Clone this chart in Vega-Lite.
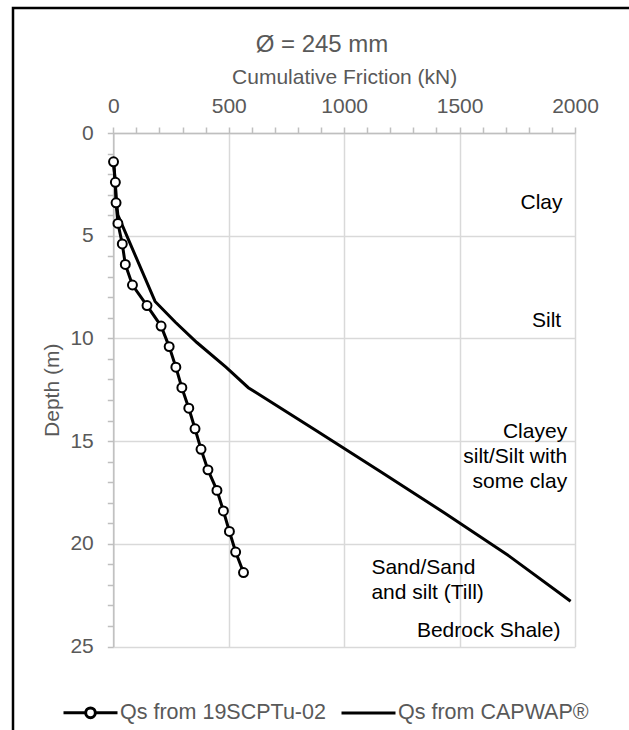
{
  "$schema": "https://vega.github.io/schema/vega-lite/v6.json",
  "width": 618,
  "height": 724,
  "autosize": {"type": "none"},
  "padding": {"left": 13, "top": 8, "right": -2, "bottom": -2},
  "background": "white",
  "config": {
    "font": "Liberation Sans",
    "view": {"stroke": "black", "strokeWidth": 2.5}
  },
  "title": {
    "text": "Ø = 245 mm",
    "font": "Liberation Sans",
    "fontSize": 24,
    "fontWeight": "normal",
    "color": "#595959",
    "anchor": "middle",
    "frame": "group",
    "offset": -49
  },
  "datasets": {
    "friction": [
      {"series": "Qs from 19SCPTu-02", "depth": 1.4, "qs": 1},
      {"series": "Qs from 19SCPTu-02", "depth": 2.4, "qs": 9},
      {"series": "Qs from 19SCPTu-02", "depth": 3.4, "qs": 12},
      {"series": "Qs from 19SCPTu-02", "depth": 4.4, "qs": 20},
      {"series": "Qs from 19SCPTu-02", "depth": 5.4, "qs": 39},
      {"series": "Qs from 19SCPTu-02", "depth": 6.4, "qs": 52},
      {"series": "Qs from 19SCPTu-02", "depth": 7.4, "qs": 83},
      {"series": "Qs from 19SCPTu-02", "depth": 8.4, "qs": 146},
      {"series": "Qs from 19SCPTu-02", "depth": 9.4, "qs": 207},
      {"series": "Qs from 19SCPTu-02", "depth": 10.4, "qs": 242},
      {"series": "Qs from 19SCPTu-02", "depth": 11.4, "qs": 271},
      {"series": "Qs from 19SCPTu-02", "depth": 12.4, "qs": 297},
      {"series": "Qs from 19SCPTu-02", "depth": 13.4, "qs": 327},
      {"series": "Qs from 19SCPTu-02", "depth": 14.4, "qs": 354},
      {"series": "Qs from 19SCPTu-02", "depth": 15.4, "qs": 380},
      {"series": "Qs from 19SCPTu-02", "depth": 16.4, "qs": 410},
      {"series": "Qs from 19SCPTu-02", "depth": 17.4, "qs": 449},
      {"series": "Qs from 19SCPTu-02", "depth": 18.4, "qs": 477},
      {"series": "Qs from 19SCPTu-02", "depth": 19.4, "qs": 503},
      {"series": "Qs from 19SCPTu-02", "depth": 20.4, "qs": 530},
      {"series": "Qs from 19SCPTu-02", "depth": 21.4, "qs": 564},
      {"series": "Qs from CAPWAP®", "depth": 1.4, "qs": 1},
      {"series": "Qs from CAPWAP®", "depth": 2.4, "qs": 8},
      {"series": "Qs from CAPWAP®", "depth": 3.4, "qs": 14},
      {"series": "Qs from CAPWAP®", "depth": 4.0, "qs": 20},
      {"series": "Qs from CAPWAP®", "depth": 8.2, "qs": 181},
      {"series": "Qs from CAPWAP®", "depth": 9.2, "qs": 268},
      {"series": "Qs from CAPWAP®", "depth": 10.2, "qs": 362},
      {"series": "Qs from CAPWAP®", "depth": 11.4, "qs": 488},
      {"series": "Qs from CAPWAP®", "depth": 12.4, "qs": 585},
      {"series": "Qs from CAPWAP®", "depth": 14.5, "qs": 880},
      {"series": "Qs from CAPWAP®", "depth": 16.5, "qs": 1160},
      {"series": "Qs from CAPWAP®", "depth": 18.5, "qs": 1435},
      {"series": "Qs from CAPWAP®", "depth": 20.6, "qs": 1715},
      {"series": "Qs from CAPWAP®", "depth": 22.8, "qs": 1981}
    ],
    "boundaries": [
      {"depth": 6.95},
      {"depth": 12.15},
      {"depth": 19.0},
      {"depth": 23.6}
    ],
    "layers_right": [
      {"label": "Clay", "depth": 3.4, "qs": 1946},
      {"label": "Silt", "depth": 9.15, "qs": 1940},
      {"label": "Clayey\nsilt/Silt with\nsome clay", "depth": 14.58, "qs": 1966},
      {"label": "Bedrock Shale)", "depth": 24.23, "qs": 1937}
    ],
    "layers_left": [
      {"label": "Sand/Sand\nand silt (Till)", "depth": 21.16, "qs": 1118}
    ]
  },
  "encoding": {
    "x": {
      "field": "qs",
      "type": "quantitative",
      "scale": {"domain": [0, 2000], "range": [100.3, 562], "nice": false, "zero": false},
      "axis": {
        "orient": "top",
        "offset": -125,
        "title": "Cumulative Friction (kN)",
        "values": [0, 100, 200, 300, 400, 500, 600, 700, 800, 900, 1000, 1100, 1200, 1300, 1400, 1500, 1600, 1700, 1800, 1900, 2000],
        "format": "d",
        "labelExpr": "datum.value % 500 === 0 ? datum.label : ''",
        "labelFlush": false,
        "grid": true,
        "gridColor": "#d9d9d9",
        "gridWidth": 1.5,
        "gridOpacity": {"condition": {"test": "datum.value % 500 === 0", "value": 1}, "value": 0},
        "domainColor": "#bfbfbf",
        "domainWidth": 1.5,
        "tickColor": "#bfbfbf",
        "tickWidth": 1.5,
        "tickSize": 6,
        "labelPadding": 11,
        "labelFont": "Liberation Sans",
        "labelFontSize": 21,
        "labelColor": "#595959",
        "titleFont": "Liberation Sans",
        "titleFontSize": 21,
        "titleFontWeight": "normal",
        "titleColor": "#595959",
        "titlePadding": 8
      }
    },
    "y": {
      "field": "depth",
      "type": "quantitative",
      "scale": {"domain": [0, 25], "range": [125, 638.5], "nice": false, "zero": false},
      "axis": {
        "orient": "left",
        "offset": -100.3,
        "title": "Depth (m)",
        "values": [0, 1, 2, 3, 4, 5, 6, 7, 8, 9, 10, 11, 12, 13, 14, 15, 16, 17, 18, 19, 20, 21, 22, 23, 24, 25],
        "format": "d",
        "labelExpr": "datum.value % 5 === 0 ? datum.label : ''",
        "labelFlush": false,
        "grid": true,
        "gridColor": "#d9d9d9",
        "gridWidth": 1.5,
        "gridOpacity": {"condition": {"test": "datum.value % 5 === 0", "value": 1}, "value": 0},
        "domainColor": "#bfbfbf",
        "domainWidth": 1.5,
        "tickColor": "#bfbfbf",
        "tickWidth": 1.5,
        "tickSize": 6,
        "labelPadding": 14,
        "labelFont": "Liberation Sans",
        "labelFontSize": 21,
        "labelColor": "#595959",
        "titleFont": "Liberation Sans",
        "titleFontSize": 21,
        "titleFontWeight": "normal",
        "titleColor": "#595959",
        "titlePadding": 7
      }
    }
  },
  "layer": [
    {
      "data": {"name": "boundaries"},
      "mark": {"type": "rule", "color": "#808080", "strokeWidth": 3.5, "strokeDash": [15, 13], "strokeCap": "butt"},
      "encoding": {
        "x": {"datum": 0, "type": "quantitative"},
        "x2": {"datum": 2000}
      }
    },
    {
      "data": {"name": "friction"},
      "mark": {"type": "line", "strokeWidth": 3},
      "encoding": {
        "order": {"field": "depth", "type": "quantitative"},
        "color": {
          "field": "series",
          "type": "nominal",
          "scale": {"domain": ["Qs from 19SCPTu-02", "Qs from CAPWAP®"], "range": ["black", "black"]},
          "legend": {
            "orient": "none",
            "legendX": 49,
            "legendY": 676,
            "direction": "horizontal",
            "title": null,
            "padding": 0,
            "symbolSize": 2916,
            "symbolStrokeWidth": 3,
            "symbolStrokeColor": "black",
            "symbolFillColor": "white",
            "labelFont": "Liberation Sans",
            "labelFontSize": 21.5,
            "labelColor": "#595959",
            "labelOffset": 1,
            "labelLimit": 400,
            "columnPadding": 9,
            "encode": {
              "symbols": {
                "update": {
                  "shape": {"signal": "datum.value === 'Qs from CAPWAP®' ? 'M-1,0H1' : 'M-1,0H-0.18M0.18,0H1M-0.18,0A0.18,0.18 0 1,1 0.18,0A0.18,0.18 0 1,1 -0.18,0'"},
                  "fill": {"value": "white"},
                  "stroke": {"value": "black"},
                  "strokeWidth": {"value": 3}
                }
              }
            }
          }
        }
      }
    },
    {
      "data": {"name": "friction"},
      "transform": [{"filter": "datum.series === 'Qs from 19SCPTu-02'"}],
      "mark": {"type": "point", "shape": "circle", "filled": true, "fill": "white", "stroke": "black", "strokeWidth": 2, "size": 80, "opacity": 1}
    },
    {
      "data": {"name": "layers_right"},
      "mark": {"type": "text", "align": "right", "baseline": "middle", "lineBreak": "\n", "lineHeight": 25, "font": "Liberation Sans", "fontSize": 21, "color": "black"},
      "encoding": {"text": {"field": "label"}}
    },
    {
      "data": {"name": "layers_left"},
      "mark": {"type": "text", "align": "left", "baseline": "middle", "lineBreak": "\n", "lineHeight": 25, "font": "Liberation Sans", "fontSize": 21, "color": "black"},
      "encoding": {"text": {"field": "label"}}
    }
  ]
}
